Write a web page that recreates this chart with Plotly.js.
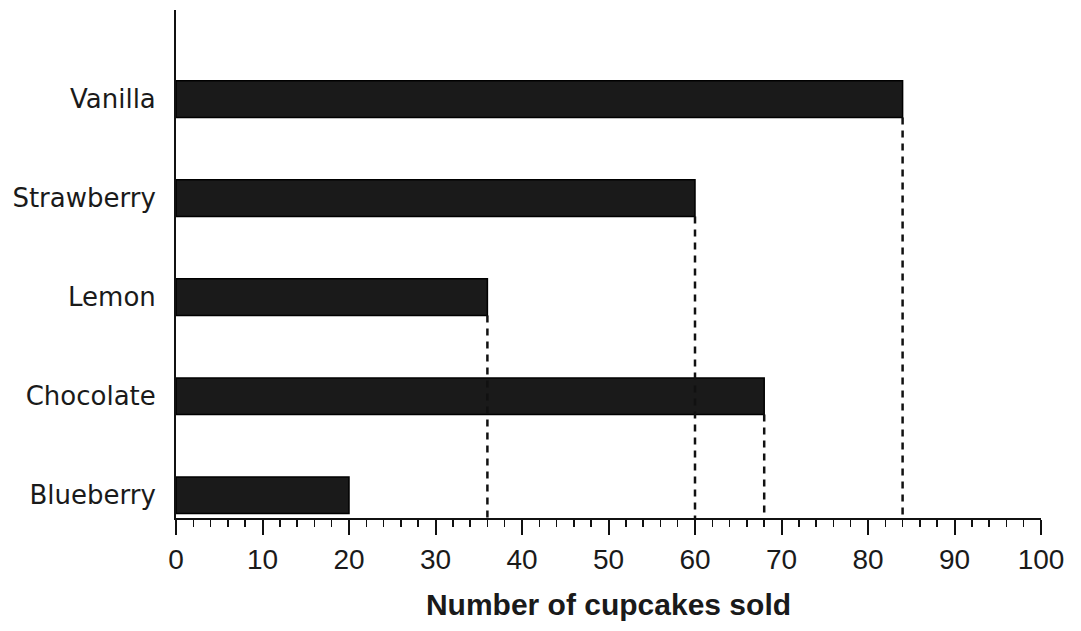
<!DOCTYPE html>
<html>
<head>
<meta charset="utf-8">
<script src="https://cdn.plot.ly/plotly-3.0.1.min.js"></script>
<style>html,body{margin:0;padding:0;background:#fff;}#chart{width:1081px;height:631px;}</style>
</head>
<body>
<div id="chart"></div>
<script>
const flavors = ["Blueberry", "Chocolate", "Lemon", "Strawberry", "Vanilla"];
const cupcakesSold = [20, 68, 36, 60, 84];
const xTickValues = [0, 10, 20, 30, 40, 50, 60, 70, 80, 90, 100];
const xTitle = "Number of cupcakes sold";

const yBottom = -0.23;
const barWidth = 0.37;

const traces = [];
// dashed guide lines from bar end down to axis (skip first bar which sits on the axis)
flavors.forEach((f, i) => {
  if (i === 0) return;
  traces.push({
    type: "scatter", mode: "lines",
    x: [cupcakesSold[i], cupcakesSold[i]],
    y: [i - barWidth / 2, yBottom],
    line: {color: "#111", width: 2.5, dash: "7px,6px"},
    hoverinfo: "skip", showlegend: false
  });
});
traces.push({
  type: "bar", orientation: "h",
  x: cupcakesSold, y: flavors.map((f, i) => i),
  width: barWidth,
  marker: {color: "#1a1a1a", line: {color: "#000", width: 1.5}},
  showlegend: false
});

const layout = {
  width: 1081, height: 631,
  margin: {l: 176, r: 40, t: 10, b: 113},
  paper_bgcolor: "#fff", plot_bgcolor: "#fff",
  font: {family: "Liberation Sans, Arial, sans-serif", color: "#1a1a1a"},
  xaxis: {
    range: [0, 100], tickvals: xTickValues, ticktext: xTickValues.map(String),
    showgrid: false, zeroline: false,
    showline: true, linecolor: "#111", linewidth: 2,
    ticks: "outside", ticklen: 15, tickwidth: 2, tickcolor: "#111",
    minor: {dtick: 2, ticks: "outside", ticklen: 7, tickwidth: 1.5, tickcolor: "#111", showgrid: false},
    tickfont: {size: 28, color: "#1a1a1a"},
    title: {text: "<b>" + xTitle + "</b>", font: {size: 30, color: "#1a1a1a"}, standoff: 20}
  },
  yaxis: {
    range: [yBottom, 4.9],
    tickvals: flavors.map((f, i) => i), ticktext: flavors,
    showgrid: false, zeroline: false,
    showline: true, linecolor: "#111", linewidth: 2,
    ticks: "", ticklabelstandoff: 13,
    tickfont: {family: "DejaVu Sans, sans-serif", size: 26, color: "#1a1a1a"}
  }
};

Plotly.newPlot("chart", traces, layout, {displayModeBar: false, staticPlot: true});
</script>
</body>
</html>
